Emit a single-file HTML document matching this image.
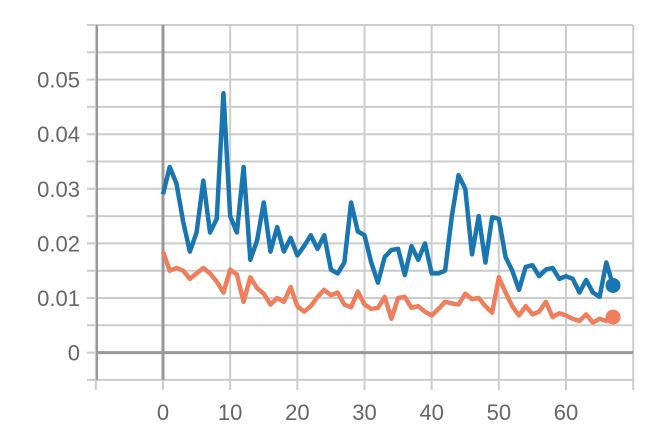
<!DOCTYPE html>
<html><head><style>
body{margin:0;background:#fff;}
svg text{font-family:"Liberation Sans",sans-serif;fill:#666;font-size:22px;}
</style></head><body>
<svg id="c" width="645" height="429" xmlns="http://www.w3.org/2000/svg"></svg>
<script>
const blueValues=[0.029,0.034,0.031,0.024,0.0185,0.022,0.0315,0.022,0.0245,0.0475,0.025,0.022,0.034,0.017,0.0205,0.0275,0.0185,0.023,0.0185,0.021,0.0178,0.0195,0.0215,0.019,0.0215,0.0152,0.0145,0.0165,0.0275,0.0222,0.0215,0.0165,0.0128,0.0175,0.0188,0.019,0.0142,0.0195,0.017,0.02,0.0145,0.0145,0.015,0.025,0.0325,0.03,0.018,0.025,0.0165,0.0248,0.0245,0.0175,0.015,0.0115,0.0157,0.016,0.014,0.0152,0.0155,0.0135,0.014,0.0135,0.011,0.0133,0.011,0.0102,0.0165,0.0123];
const orangeValues=[0.0185,0.015,0.0155,0.015,0.0135,0.0145,0.0155,0.0145,0.013,0.011,0.0152,0.0143,0.0093,0.0138,0.0118,0.0108,0.0088,0.01,0.0093,0.012,0.0085,0.0075,0.0085,0.0102,0.0115,0.0105,0.011,0.0088,0.0083,0.0112,0.0088,0.008,0.0082,0.0102,0.0062,0.01,0.0102,0.0082,0.0085,0.0075,0.0068,0.008,0.0093,0.009,0.0088,0.0108,0.0098,0.01,0.0085,0.0073,0.0138,0.011,0.0085,0.0068,0.0085,0.007,0.0075,0.0093,0.0065,0.0072,0.0068,0.0062,0.0058,0.007,0.0055,0.0062,0.0058,0.0065];
const xTicks=[0,10,20,30,40,50,60];
const yTicks=[0,0.01,0.02,0.03,0.04,0.05];
const NS="http://www.w3.org/2000/svg",svg=document.getElementById('c');
const X=v=>163+v*6.717, Y=v=>352.6-v*5460;
function mk(t,a){const e=document.createElementNS(NS,t);for(const k in a)e.setAttribute(k,a[k]);svg.appendChild(e);return e;}
for(let v=-10;v<=70;v+=10){const x=X(v);if(x>640)continue;
const g=mk('line',{x1:x,x2:x,y1:25,y2:390,stroke:'#ccc','stroke-width':2});

}
for(let v=-0.005;v<=0.0601;v+=0.005){const y=Y(v);
const g=mk('line',{x1:87,x2:633,y1:y,y2:y,stroke:'#ccc','stroke-width':2});

}
const lb=mk('line',{x1:97,x2:97,y1:25,y2:380,stroke:'#999','stroke-width':2});


const ax=mk('line',{x1:X(0),x2:X(0),y1:25,y2:380,stroke:'#999','stroke-width':3});


const ay=mk('line',{x1:97,x2:633,y1:Y(0),y2:Y(0),stroke:'#999','stroke-width':3});


xTicks.forEach(v=>{const t=mk('text',{x:X(v),y:420,'text-anchor':'middle'});t.textContent=v;

});
yTicks.forEach(v=>{const t=mk('text',{x:80,y:Y(v)+8,'text-anchor':'end'});t.textContent=v===0?'0':v.toFixed(2);

});
function series(vals,col,name){
const p=mk('polyline',{points:vals.map((v,i)=>X(i)+','+Y(v)).join(' '),fill:'none',stroke:col,'stroke-width':4.5,'stroke-linejoin':'round'});


const n=vals.length-1;
const c=mk('circle',{cx:X(n),cy:Y(vals[n]),r:7.5,fill:col});

}
series(blueValues,'#1a76b0','blue-series');
series(orangeValues,'#ef7f5c','orange-series');
</script>
</body></html>
